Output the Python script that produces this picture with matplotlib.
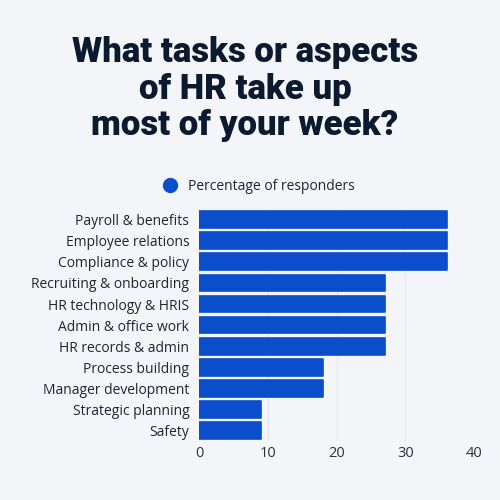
import numpy as np
import matplotlib
matplotlib.use("Agg")
import matplotlib.pyplot as plt
from matplotlib.lines import Line2D

# data
tasks = ["Payroll & benefits", "Employee relations", "Compliance & policy",
         "Recruiting & onboarding", "HR technology & HRIS", "Admin & office work",
         "HR records & admin", "Process building", "Manager development",
         "Strategic planning", "Safety"]
share = [36, 36, 36, 27, 27, 27, 27, 18, 18, 9, 9]
xticks = [0, 10, 20, 30, 40]

bg = "#F3F5F9"
blue = "#0B4ECC"
navy = "#0B1A2E"

plt.rcParams["font.family"] = ["Open Sans", "DejaVu Sans"]

fig = plt.figure(figsize=(5, 5), dpi=100, facecolor=bg)
ax = fig.add_axes([0.398, 0.1184, 0.55, 0.463])
ax.set_facecolor(bg)

y = np.arange(len(tasks))
ax.barh(y, share, height=0.8, color=blue, edgecolor=blue, linewidth=1.2,
        joinstyle="round", zorder=3)
ax.set_yticks(y)
ax.set_yticklabels(tasks, fontsize=10, color="#1E2530")
ax.set_ylim(len(tasks) - 0.5, -0.5)
ax.set_xlim(0, 40)
ax.set_xticks(xticks)
ax.set_xticklabels([str(v) for v in xticks], fontsize=10.5, color="#2A3240")
ax.tick_params(length=0, pad=4)
ax.tick_params(axis="y", pad=7)
ax.grid(axis="x", color="#E4E7EE", linewidth=0.8, zorder=0)
for s in ax.spines.values():
    s.set_visible(False)

title = "What tasks or aspects\nof HR take up\nmost of your week?"
fig.text(0.49, 0.822, title, ha="center", va="center", fontsize=25,
         fontweight="black", family=["Roboto", "DejaVu Sans"],
         color=navy, linespacing=1.14)

handle = Line2D([], [], marker="o", linestyle="", markersize=10, color=blue)
fig.legend([handle], ["Percentage of responders"], loc="center",
           bbox_to_anchor=(0.51, 0.627), frameon=False, fontsize=10,
           handletextpad=0.3, labelcolor="#1E2530")

fig.savefig("out.png", dpi=100, facecolor=bg)
